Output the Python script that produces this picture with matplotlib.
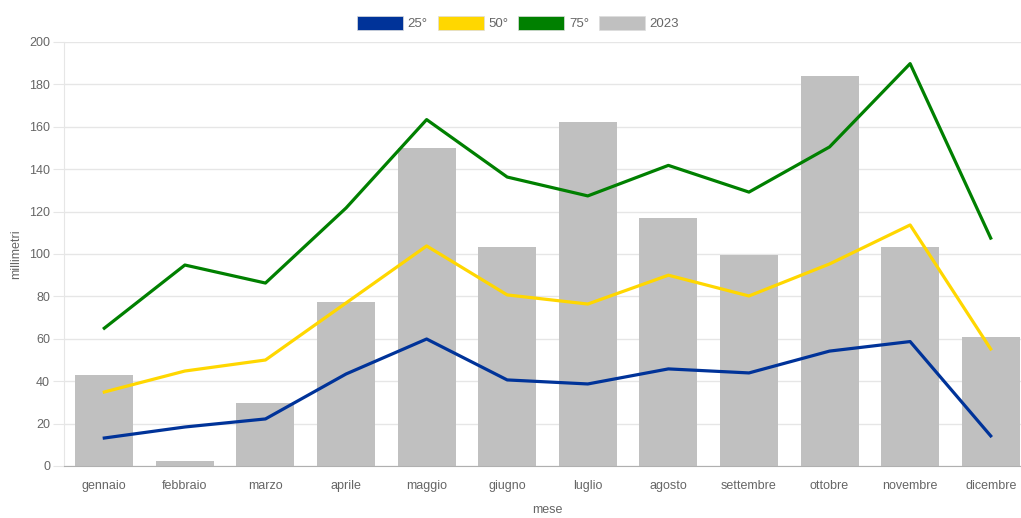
import numpy as np
import matplotlib.pyplot as plt
from matplotlib.patches import Patch

plt.rcParams["font.family"] = ["Liberation Sans", "DejaVu Sans"]

mesi = ["gennaio", "febbraio", "marzo", "aprile", "maggio", "giugno",
        "luglio", "agosto", "settembre", "ottobre", "novembre", "dicembre"]
pioggia_2023 = [43, 2.5, 29.7, 77.5, 150, 103.3, 162.5, 117, 99.3, 184, 103.3, 61]
p25 = [13.2, 18.4, 22.2, 43.4, 59.9, 40.6, 38.7, 45.8, 43.9, 54.2, 58.7, 14.2]
p50 = [34.9, 44.8, 50, 76.9, 103.8, 80.7, 76.4, 90, 80.2, 95.3, 113.7, 55.2]
p75 = [65, 94.8, 86.3, 121.7, 163.4, 136.3, 127.4, 141.8, 129.2, 150.5, 189.8, 107.5]

c25, c50, c75, cbar = "#003399", "#ffd700", "#008000", "#c0c0c0"
grey_txt = "#666666"

W, H = 1021, 518
fig = plt.figure(figsize=(W / 100, H / 100), dpi=100)
# plot area runs past the right border, so the last bar is cut
ax = fig.add_axes([64 / W, (H - 466) / H, (1031 - 64) / W, (466 - 42) / H])

x = np.arange(len(mesi))
ax.bar(x, pioggia_2023, width=0.72, color=cbar, zorder=2)
ax.plot(x, p25, color=c25, lw=2.3, zorder=3)
ax.plot(x, p50, color=c50, lw=2.3, zorder=3)
ax.plot(x, p75, color=c75, lw=2.3, zorder=3)

ax.set_xlim(-0.5, len(mesi) - 0.5)
ax.set_ylim(0, 200)
ax.set_yticks(range(0, 201, 20))
ax.set_xticks(x)
ax.set_xticklabels(mesi)
ax.grid(axis="y", color="#e6e6e6", lw=1, zorder=0)
ax.tick_params(axis="y", length=8, color="#e6e6e6", labelsize=9, labelcolor=grey_txt, pad=2)
ax.tick_params(axis="x", length=0, labelsize=9, labelcolor=grey_txt, pad=10)
for s in ["top", "right"]:
    ax.spines[s].set_visible(False)
ax.spines["left"].set_color("#e6e6e6")
ax.spines["bottom"].set_color("#b0b0b0")

ax.set_ylabel("millimetri", fontsize=9, color=grey_txt, labelpad=5)
ax.set_xlabel("mese", fontsize=9, color=grey_txt, labelpad=9)

handles = [Patch(facecolor=c, edgecolor="#dddddd", lw=0.5) for c in (c25, c50, c75, cbar)]
fig.legend(handles, ["25°", "50°", "75°", "2023"], loc="center", bbox_to_anchor=(518 / W, 1 - 23 / H),
           ncol=4, frameon=False, fontsize=9.5, handlelength=3.5, handleheight=1.35,
           handletextpad=0.35, columnspacing=0.75, labelcolor=grey_txt)

fig.savefig("out.png", dpi=100)
